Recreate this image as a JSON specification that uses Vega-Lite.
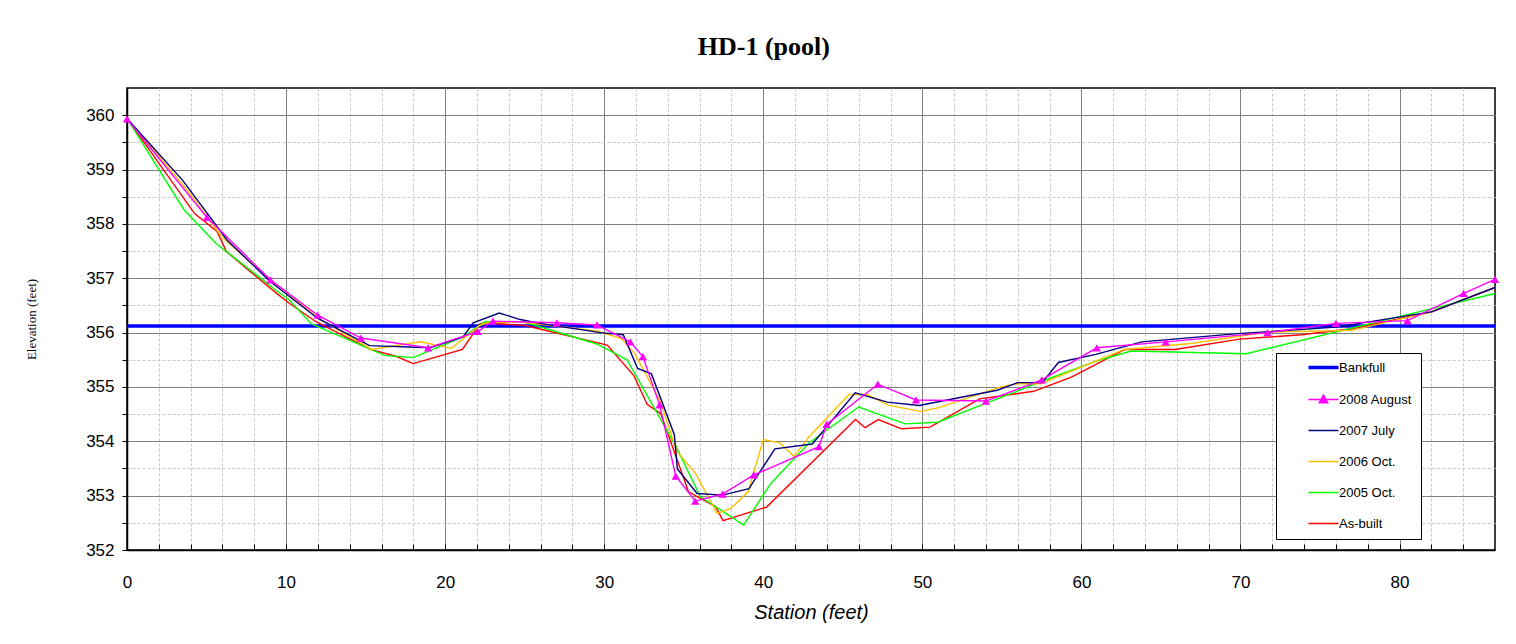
{
  "$schema": "https://vega.github.io/schema/vega-lite/v6.json",
  "width": 1368,
  "height": 462,
  "autosize": {"type": "none"},
  "padding": {"left": 127, "top": 88, "right": 21, "bottom": 94},
  "background": "white",
  "title": {"text": "HD-1 (pool)", "font": "Liberation Serif", "fontSize": 26, "fontWeight": "bold", "color": "black", "anchor": "middle", "frame": "bounds", "offset": 28},
  "config": {"view": {"stroke": "black", "strokeWidth": 1.5}},
  "datasets": {
    "bank": [
      {"series": "Bankfull", "station": 0, "elev": 356.12},
      {"series": "Bankfull", "station": 86, "elev": 356.12}
    ],
    "survey": [
      {"series": "As-built", "station": 0, "elev": 359.94},
      {"series": "As-built", "station": 4.25, "elev": 358.19},
      {"series": "As-built", "station": 5.66, "elev": 357.86},
      {"series": "As-built", "station": 6.25, "elev": 357.49},
      {"series": "As-built", "station": 9.37, "elev": 356.73},
      {"series": "As-built", "station": 10.2, "elev": 356.54},
      {"series": "As-built", "station": 11.88, "elev": 356.2},
      {"series": "As-built", "station": 15.3, "elev": 355.69},
      {"series": "As-built", "station": 16.95, "elev": 355.56},
      {"series": "As-built", "station": 17.99, "elev": 355.43},
      {"series": "As-built", "station": 21.09, "elev": 355.69},
      {"series": "As-built", "station": 22.18, "elev": 356.16},
      {"series": "As-built", "station": 22.5, "elev": 356.18},
      {"series": "As-built", "station": 25.03, "elev": 356.13},
      {"series": "As-built", "station": 30.19, "elev": 355.77},
      {"series": "As-built", "station": 31.86, "elev": 355.21},
      {"series": "As-built", "station": 32.7, "elev": 354.68},
      {"series": "As-built", "station": 33.55, "elev": 354.51},
      {"series": "As-built", "station": 35.3, "elev": 353.07},
      {"series": "As-built", "station": 37.0, "elev": 352.8},
      {"series": "As-built", "station": 37.47, "elev": 352.54},
      {"series": "As-built", "station": 40.21, "elev": 352.79},
      {"series": "As-built", "station": 45.8, "elev": 354.4},
      {"series": "As-built", "station": 46.4, "elev": 354.25},
      {"series": "As-built", "station": 47.23, "elev": 354.4},
      {"series": "As-built", "station": 48.69, "elev": 354.23},
      {"series": "As-built", "station": 50.48, "elev": 354.26},
      {"series": "As-built", "station": 53.6, "elev": 354.78},
      {"series": "As-built", "station": 57.0, "elev": 354.92},
      {"series": "As-built", "station": 59.37, "elev": 355.18},
      {"series": "As-built", "station": 62.73, "elev": 355.69},
      {"series": "As-built", "station": 65.87, "elev": 355.69},
      {"series": "As-built", "station": 69.94, "elev": 355.88},
      {"series": "As-built", "station": 73.82, "elev": 355.96},
      {"series": "As-built", "station": 77.0, "elev": 356.07},
      {"series": "As-built", "station": 82.04, "elev": 356.38},
      {"series": "As-built", "station": 86.0, "elev": 356.83},

      {"series": "2005 Oct.", "station": 0, "elev": 359.94},
      {"series": "2005 Oct.", "station": 3.56, "elev": 358.27},
      {"series": "2005 Oct.", "station": 5.6, "elev": 357.64},
      {"series": "2005 Oct.", "station": 9.37, "elev": 356.78},
      {"series": "2005 Oct.", "station": 10.2, "elev": 356.6},
      {"series": "2005 Oct.", "station": 11.6, "elev": 356.16},
      {"series": "2005 Oct.", "station": 16.2, "elev": 355.58},
      {"series": "2005 Oct.", "station": 17.99, "elev": 355.54},
      {"series": "2005 Oct.", "station": 21.13, "elev": 355.92},
      {"series": "2005 Oct.", "station": 22.5, "elev": 356.2},
      {"series": "2005 Oct.", "station": 24.93, "elev": 356.2},
      {"series": "2005 Oct.", "station": 29.54, "elev": 355.79},
      {"series": "2005 Oct.", "station": 31.43, "elev": 355.5},
      {"series": "2005 Oct.", "station": 34.47, "elev": 353.93},
      {"series": "2005 Oct.", "station": 36.05, "elev": 352.98},
      {"series": "2005 Oct.", "station": 38.77, "elev": 352.46},
      {"series": "2005 Oct.", "station": 40.46, "elev": 353.22},
      {"series": "2005 Oct.", "station": 42.87, "elev": 353.97},
      {"series": "2005 Oct.", "station": 46.0, "elev": 354.63},
      {"series": "2005 Oct.", "station": 48.93, "elev": 354.32},
      {"series": "2005 Oct.", "station": 50.95, "elev": 354.35},
      {"series": "2005 Oct.", "station": 54.1, "elev": 354.71},
      {"series": "2005 Oct.", "station": 57.47, "elev": 355.1},
      {"series": "2005 Oct.", "station": 60.8, "elev": 355.46},
      {"series": "2005 Oct.", "station": 63.12, "elev": 355.66},
      {"series": "2005 Oct.", "station": 70.36, "elev": 355.61},
      {"series": "2005 Oct.", "station": 82.04, "elev": 356.44},
      {"series": "2005 Oct.", "station": 86.0, "elev": 356.72},

      {"series": "2006 Oct.", "station": 0, "elev": 359.94},
      {"series": "2006 Oct.", "station": 3.7, "elev": 358.65},
      {"series": "2006 Oct.", "station": 6.0, "elev": 357.75},
      {"series": "2006 Oct.", "station": 9.0, "elev": 356.97},
      {"series": "2006 Oct.", "station": 12.0, "elev": 356.27},
      {"series": "2006 Oct.", "station": 15.38, "elev": 355.69},
      {"series": "2006 Oct.", "station": 18.45, "elev": 355.83},
      {"series": "2006 Oct.", "station": 20.4, "elev": 355.71},
      {"series": "2006 Oct.", "station": 22.18, "elev": 356.13},
      {"series": "2006 Oct.", "station": 22.6, "elev": 356.18},
      {"series": "2006 Oct.", "station": 24.7, "elev": 356.2},
      {"series": "2006 Oct.", "station": 29.54, "elev": 356.03},
      {"series": "2006 Oct.", "station": 31.07, "elev": 355.89},
      {"series": "2006 Oct.", "station": 31.95, "elev": 355.6},
      {"series": "2006 Oct.", "station": 33.53, "elev": 354.73},
      {"series": "2006 Oct.", "station": 34.58, "elev": 353.81},
      {"series": "2006 Oct.", "station": 35.74, "elev": 353.41},
      {"series": "2006 Oct.", "station": 37.1, "elev": 352.67},
      {"series": "2006 Oct.", "station": 37.98, "elev": 352.77},
      {"series": "2006 Oct.", "station": 39.05, "elev": 353.07},
      {"series": "2006 Oct.", "station": 40.0, "elev": 354.03},
      {"series": "2006 Oct.", "station": 41.05, "elev": 353.97},
      {"series": "2006 Oct.", "station": 41.93, "elev": 353.72},
      {"series": "2006 Oct.", "station": 42.87, "elev": 354.08},
      {"series": "2006 Oct.", "station": 45.39, "elev": 354.86},
      {"series": "2006 Oct.", "station": 46.54, "elev": 354.86},
      {"series": "2006 Oct.", "station": 47.9, "elev": 354.66},
      {"series": "2006 Oct.", "station": 49.9, "elev": 354.55},
      {"series": "2006 Oct.", "station": 51.05, "elev": 354.62},
      {"series": "2006 Oct.", "station": 54.93, "elev": 355.0},
      {"series": "2006 Oct.", "station": 56.0, "elev": 355.06},
      {"series": "2006 Oct.", "station": 57.44, "elev": 355.06},
      {"series": "2006 Oct.", "station": 62.69, "elev": 355.69},
      {"series": "2006 Oct.", "station": 66.9, "elev": 355.8},
      {"series": "2006 Oct.", "station": 71.7, "elev": 356.01},
      {"series": "2006 Oct.", "station": 77.0, "elev": 356.04},
      {"series": "2006 Oct.", "station": 82.0, "elev": 356.38},
      {"series": "2006 Oct.", "station": 86.0, "elev": 356.83},

      {"series": "2007 July", "station": 0, "elev": 359.94},
      {"series": "2007 July", "station": 3.5, "elev": 358.8},
      {"series": "2007 July", "station": 6.3, "elev": 357.7},
      {"series": "2007 July", "station": 9.0, "elev": 356.94},
      {"series": "2007 July", "station": 12.0, "elev": 356.26},
      {"series": "2007 July", "station": 15.25, "elev": 355.76},
      {"series": "2007 July", "station": 19.04, "elev": 355.72},
      {"series": "2007 July", "station": 21.13, "elev": 355.92},
      {"series": "2007 July", "station": 21.76, "elev": 356.18},
      {"series": "2007 July", "station": 23.4, "elev": 356.36},
      {"series": "2007 July", "station": 24.72, "elev": 356.24},
      {"series": "2007 July", "station": 25.97, "elev": 356.17},
      {"series": "2007 July", "station": 29.75, "elev": 356.0},
      {"series": "2007 July", "station": 31.2, "elev": 355.96},
      {"series": "2007 July", "station": 32.1, "elev": 355.34},
      {"series": "2007 July", "station": 32.97, "elev": 355.24},
      {"series": "2007 July", "station": 34.41, "elev": 354.12},
      {"series": "2007 July", "station": 34.6, "elev": 353.49},
      {"series": "2007 July", "station": 35.84, "elev": 353.04},
      {"series": "2007 July", "station": 37.42, "elev": 353.01},
      {"series": "2007 July", "station": 39.1, "elev": 353.13},
      {"series": "2007 July", "station": 40.73, "elev": 353.86},
      {"series": "2007 July", "station": 43.08, "elev": 353.95},
      {"series": "2007 July", "station": 45.78, "elev": 354.89},
      {"series": "2007 July", "station": 47.8, "elev": 354.72},
      {"series": "2007 July", "station": 49.8, "elev": 354.66},
      {"series": "2007 July", "station": 54.7, "elev": 354.94},
      {"series": "2007 July", "station": 56.0, "elev": 355.08},
      {"series": "2007 July", "station": 57.54, "elev": 355.08},
      {"series": "2007 July", "station": 58.55, "elev": 355.45},
      {"series": "2007 July", "station": 60.9, "elev": 355.6},
      {"series": "2007 July", "station": 63.8, "elev": 355.83},
      {"series": "2007 July", "station": 69.83, "elev": 355.98},
      {"series": "2007 July", "station": 76.0, "elev": 356.1},
      {"series": "2007 July", "station": 82.0, "elev": 356.38},
      {"series": "2007 July", "station": 86.0, "elev": 356.83},

      {"series": "2008 August", "station": 0, "elev": 359.93},
      {"series": "2008 August", "station": 5.02, "elev": 358.12},
      {"series": "2008 August", "station": 9.02, "elev": 356.97},
      {"series": "2008 August", "station": 11.99, "elev": 356.32},
      {"series": "2008 August", "station": 14.7, "elev": 355.9},
      {"series": "2008 August", "station": 18.93, "elev": 355.72},
      {"series": "2008 August", "station": 22.05, "elev": 356.02},
      {"series": "2008 August", "station": 23.0, "elev": 356.21},
      {"series": "2008 August", "station": 27.02, "elev": 356.18},
      {"series": "2008 August", "station": 29.54, "elev": 356.14},
      {"series": "2008 August", "station": 31.64, "elev": 355.83},
      {"series": "2008 August", "station": 32.43, "elev": 355.56},
      {"series": "2008 August", "station": 33.48, "elev": 354.67},
      {"series": "2008 August", "station": 34.5, "elev": 353.36},
      {"series": "2008 August", "station": 35.72, "elev": 352.9},
      {"series": "2008 August", "station": 37.44, "elev": 353.03},
      {"series": "2008 August", "station": 39.4, "elev": 353.38},
      {"series": "2008 August", "station": 43.5, "elev": 353.9},
      {"series": "2008 August", "station": 43.98, "elev": 354.31},
      {"series": "2008 August", "station": 47.2, "elev": 355.05},
      {"series": "2008 August", "station": 49.6, "elev": 354.76},
      {"series": "2008 August", "station": 54.0, "elev": 354.74},
      {"series": "2008 August", "station": 57.5, "elev": 355.13},
      {"series": "2008 August", "station": 60.97, "elev": 355.72},
      {"series": "2008 August", "station": 65.3, "elev": 355.83},
      {"series": "2008 August", "station": 71.7, "elev": 356.0},
      {"series": "2008 August", "station": 76.0, "elev": 356.17},
      {"series": "2008 August", "station": 80.5, "elev": 356.22},
      {"series": "2008 August", "station": 84.03, "elev": 356.72},
      {"series": "2008 August", "station": 86.0, "elev": 356.98}
    ]
  },
  "encoding": {
    "x": {
      "field": "station", "type": "quantitative",
      "scale": {"domain": [0, 86], "nice": false, "zero": false},
      "axis": {
        "title": "Station (feet)",
        "titleFont": "Liberation Sans", "titleFontSize": 20, "titleFontStyle": "italic", "titleFontWeight": "normal", "titleColor": "black", "titlePadding": 12,
        "values": [0,2,4,6,8,10,12,14,16,18,20,22,24,26,28,30,32,34,36,38,40,42,44,46,48,50,52,54,56,58,60,62,64,66,68,70,72,74,76,78,80,82,84],
        "format": "d",
        "labelExpr": "datum.value % 10 === 0 ? datum.label : ''",
        "labelFont": "Liberation Sans", "labelFontSize": 17, "labelColor": "black", "labelPadding": 30, "labelFlush": false,
        "tickSize": -6, "tickColor": "black", "domainColor": "black", "domainWidth": 1.5,
        "grid": true,
        "gridColor": {"condition": {"test": "datum.value % 10 === 0", "value": "#808080"}, "value": "#c8c8c8"},
        "gridDash": {"condition": {"test": "datum.value % 10 === 0", "value": []}, "value": [3, 2]},
        "gridWidth": 1
      }
    },
    "y": {
      "field": "elev", "type": "quantitative",
      "scale": {"domain": [352, 360.5], "nice": false, "zero": false},
      "axis": {
        "title": "Elevation (feet)",
        "titleFont": "Liberation Serif", "titleFontSize": 13, "titleFontWeight": "normal", "titleColor": "black", "titlePadding": 47,
        "values": [352,352.5,353,353.5,354,354.5,355,355.5,356,356.5,357,357.5,358,358.5,359,359.5,360],
        "format": ".0f",
        "labelExpr": "datum.value % 1 === 0 ? datum.label : ''",
        "labelFont": "Liberation Sans", "labelFontSize": 17, "labelColor": "black", "labelPadding": 8,
        "tickSize": 5, "tickColor": "black", "domainColor": "black", "domainWidth": 1.5,
        "grid": true,
        "gridColor": {"condition": {"test": "datum.value % 1 === 0", "value": "#808080"}, "value": "#c8c8c8"},
        "gridDash": {"condition": {"test": "datum.value % 1 === 0", "value": []}, "value": [3, 2]},
        "gridWidth": 1
      }
    },
    "color": {
      "field": "series", "type": "nominal",
      "scale": {
        "domain": ["Bankfull", "2008 August", "2007 July", "2006 Oct.", "2005 Oct.", "As-built"],
        "range": ["#0000FF", "#FF00FF", "#000080", "#FFC000", "#00FF00", "#FF0000"]
      },
      "legend": {
        "orient": "none", "legendX": 1149, "legendY": 265,
        "title": null,
        "fillColor": "white", "strokeColor": "black",
        "padding": 8,
        "symbolType": "stroke", "symbolSize": 900, "symbolOffset": 33, "symbolStrokeWidth": 1.5,
        "rowPadding": 17,
        "labelFont": "Liberation Sans", "labelFontSize": 13, "labelColor": "black", "labelOffset": 9,
        "labelExpr": "datum.label + '\u00a0\u00a0\u00a0\u00a0\u00a0\u00a0'",
        "encode": {
          "symbols": {
            "update": {
              "shape": {"signal": "datum.value === '2008 August' ? 'M-1,0H1M0,-0.3L0.28,0.22L-0.28,0.22Z' : 'stroke'"},
              "fill": {"signal": "datum.value === '2008 August' ? '#FF00FF' : 'transparent'"},
              "strokeWidth": {"signal": "datum.value === 'Bankfull' ? 3.5 : 1.5"}
            }
          }
        }
      }
    }
  },
  "layer": [
    {
      "data": {"name": "bank"},
      "mark": {"type": "line", "strokeWidth": 3.5}
    },
    {
      "data": {"name": "survey"},
      "mark": {"type": "line", "strokeWidth": 1.4}
    },
    {
      "data": {"name": "survey"},
      "transform": [{"filter": "datum.series === '2008 August'"}],
      "mark": {"type": "point", "shape": "triangle-up", "filled": true, "size": 70, "opacity": 1}
    }
  ]
}
